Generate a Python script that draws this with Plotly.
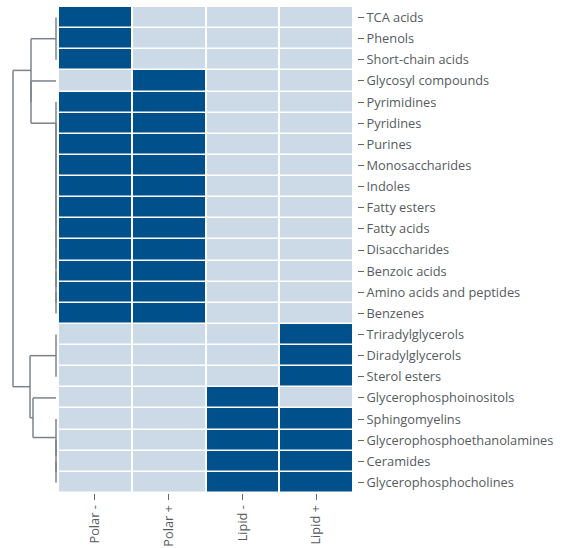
import plotly.graph_objects as go

# ---------------- data ----------------
compound_classes = [
    "TCA acids", "Phenols", "Short-chain acids", "Glycosyl compounds",
    "Pyrimidines", "Pyridines", "Purines", "Monosaccharides", "Indoles",
    "Fatty esters", "Fatty acids", "Disaccharides", "Benzoic acids",
    "Amino acids and peptides", "Benzenes", "Triradylglycerols",
    "Diradylglycerols", "Sterol esters", "Glycerophosphoinositols",
    "Sphingomyelins", "Glycerophosphoethanolamines", "Ceramides",
    "Glycerophosphocholines",
]
platforms = ["Polar -", "Polar +", "Lipid -", "Lipid +"]

polar_neg = [1, 1, 1, 0, 1, 1, 1, 1, 1, 1, 1, 1, 1, 1, 1, 0, 0, 0, 0, 0, 0, 0, 0]
polar_pos = [0, 0, 0, 1, 1, 1, 1, 1, 1, 1, 1, 1, 1, 1, 1, 0, 0, 0, 0, 0, 0, 0, 0]
lipid_neg = [0, 0, 0, 0, 0, 0, 0, 0, 0, 0, 0, 0, 0, 0, 0, 0, 0, 0, 1, 1, 1, 1, 1]
lipid_pos = [0, 0, 0, 0, 0, 0, 0, 0, 0, 0, 0, 0, 0, 0, 0, 1, 1, 1, 0, 1, 1, 1, 1]

# Dendrogram: merges as (children, height); children are leaf indices or
# ids of previous merges (id = n_leaves + merge index)
n = len(compound_classes)
merges = []


def add(children, h):
    merges.append((tuple(children), h))
    return n + len(merges) - 1


def chain(leaves, h=0.0):
    node = leaves[-1]
    for leaf in reversed(leaves[:-1]):
        node = add((leaf, node), h)
    return node


grp_a = add((0, 1, 2), 0.0)
grp_big = chain(list(range(4, 15)))
grp_glyc = add((3, grp_big), 1.0)
grp_top = add((grp_a, grp_glyc), 1.0)
grp_lp = add((15, 16, 17), 0.0)
grp_both = chain([19, 20, 21, 22])
grp_lip2 = add((18, grp_both), 0.92)
grp_bot = add((grp_lp, grp_lip2), 1.04)
root = add((grp_top, grp_bot), 1.72)

# ---------------- figure ----------------
DARK = "#00508C"
LIGHT = "#CBDAE6"
TXT = "#555B61"
LINE = "#7A838B"

cols = [polar_neg, polar_pos, lipid_neg, lipid_pos]
z = [[cols[j][i] for j in range(len(platforms))] for i in range(n)]

# compute dendrogram node positions
pos = {i: float(i) for i in range(n)}
hgt = {i: 0.0 for i in range(n)}
xs, ys = [], []
for k, (children, h) in enumerate(merges):
    nid = n + k
    cy = [pos[c] for c in children]
    for c in children:
        xs += [hgt[c], h, None]
        ys += [pos[c], pos[c], None]
    xs += [h, h, None]
    ys += [min(cy), max(cy), None]
    pos[nid] = sum(cy) / len(cy)
    hgt[nid] = h

fig = go.Figure()
fig.add_trace(go.Heatmap(
    z=z, x=list(range(len(platforms))), y=list(range(n)),
    colorscale=[[0, LIGHT], [1, DARK]], zmin=0, zmax=1,
    showscale=False, xgap=2, ygap=1.5, hoverinfo="skip",
))
fig.add_trace(go.Scatter(
    x=xs, y=ys, mode="lines", xaxis="x2", yaxis="y",
    line=dict(color=LINE, width=1.5), hoverinfo="skip", showlegend=False,
))

W, H = 567, 548
L_, R_, T_, B_ = 0, 200, 7, 55
plot_w = W - L_ - R_
fig.update_layout(
    width=W, height=H,
    margin=dict(l=L_, r=R_, t=T_, b=B_, autoexpand=False),
    paper_bgcolor="white", plot_bgcolor="white",
    font=dict(family="Open Sans", size=12.8, color=TXT),
    showlegend=False,
    xaxis=dict(
        domain=[58 / plot_w, 353 / plot_w], range=[-0.5, 3.5],
        tickvals=list(range(len(platforms))), ticktext=platforms,
        tickangle=-90, ticks="outside", ticklen=6, tickcolor="#666",
        tickwidth=1, showgrid=False, zeroline=False, showline=False,
        anchor="y", automargin=False,
    ),
    yaxis=dict(
        range=[n - 0.5, -0.5], side="right",
        tickvals=list(range(n)), ticktext=compound_classes,
        ticks="outside", ticklen=6, tickcolor="#666", tickwidth=1,
        showgrid=False, zeroline=False, showline=False,
        anchor="free", position=357 / plot_w, automargin=False,
    ),
    xaxis2=dict(
        domain=[0, 57 / plot_w], range=[2.24, -0.04],
        showticklabels=False, ticks="", showgrid=False, zeroline=False,
        showline=False, anchor="y", automargin=False,
    ),
)

fig.write_html(
    "out.html",
    config={"displayModeBar": False},
    post_script="document.body.style.margin='0px';",
)
